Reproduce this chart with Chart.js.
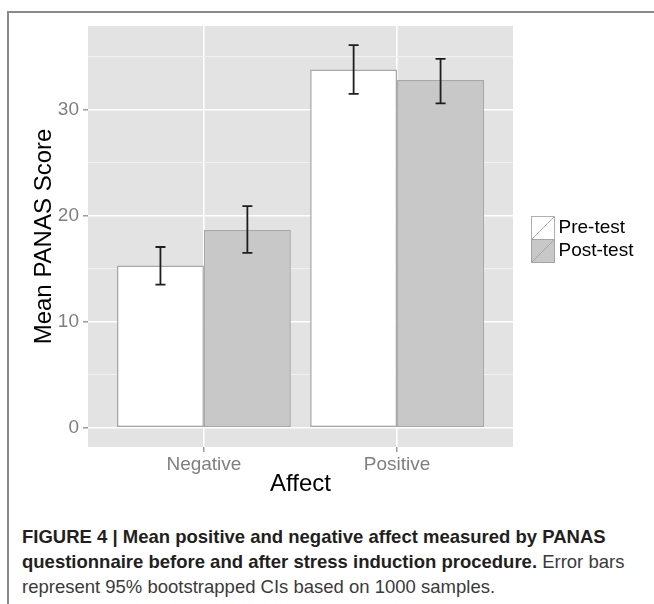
<!DOCTYPE html>
<html><head><meta charset="utf-8">
<script src="https://cdn.jsdelivr.net/npm/chart.js@4.4.1/dist/chart.umd.min.js"></script>
<style>
html,body{margin:0;padding:0;background:#fff;}
#wrap{position:relative;width:654px;height:604px;overflow:hidden;}
#frame{position:absolute;left:7px;top:11px;width:700px;height:700px;border-top:2px solid #8a8a8a;border-left:2px solid #8a8a8a;}
#c{position:absolute;left:0;top:0;}
.cap{position:absolute;left:22px;top:524px;font-family:'Liberation Sans',Arial,Helvetica,sans-serif;font-size:18.5px;line-height:25px;white-space:nowrap;color:#3a3a3a;}
.cap b{color:#231f20;}
</style></head><body>
<div id="wrap">
<div id="frame"></div>
<canvas id="c" width="654" height="510"></canvas>
<div class="cap"><b>FIGURE 4 | Mean positive and negative affect measured by PANAS</b><br><b>questionnaire before and after stress induction procedure.</b> Error bars<br>represent 95% bootstrapped CIs based on 1000 samples.</div>
</div>
<script>
const categories = ['Negative', 'Positive'];
const seriesNames = ['Pre-test', 'Post-test'];
const preTest = [15.3, 33.8];
const postTest = [18.65, 32.8];
const preLow = [13.5, 31.5];
const preHigh = [17.05, 36.1];
const postLow = [16.5, 30.6];
const postHigh = [20.9, 34.8];
const yMajorTicks = [0, 10, 20, 30];
const yMinorTicks = [5, 15, 25, 35];

Chart.defaults.font.family = "'Liberation Sans', Arial, Helvetica, sans-serif";
const GRID_MAJOR = '#ffffff', GRID_MINOR = '#f1f1f1', PANEL = '#e3e3e3', TICK = '#8c8c8c', TICKTEXT = '#7f7f7f';

function legendSwatch(fill, edge) {
  const c = document.createElement('canvas');
  c.width = 46; c.height = 24;
  const g = c.getContext('2d');
  g.fillStyle = fill; g.fillRect(21, 0, 24, 24);
  g.strokeStyle = edge; g.lineWidth = 1;
  g.strokeRect(21.5, 0.5, 23, 23);
  g.beginPath(); g.moveTo(22, 23); g.lineTo(44, 1); g.stroke();
  return c;
}
const swatches = [legendSwatch('#ffffff', '#b0b0b0'), legendSwatch('#c8c8c8', '#a4a4a4')];

const panelBg = {
  id: 'panelBg',
  beforeDraw(chart) {
    const {ctx, chartArea: a} = chart;
    ctx.save(); ctx.fillStyle = PANEL; ctx.fillRect(a.left, a.top, a.width, a.height); ctx.restore();
  }
};
const errorBars = {
  id: 'errorBars',
  afterDatasetsDraw(chart) {
    const ctx = chart.ctx, ys = chart.scales.y;
    const ranges = [[preLow, preHigh], [postLow, postHigh]];
    ctx.save();
    ctx.strokeStyle = '#1e1e1e'; ctx.lineWidth = 1.8;
    ranges.forEach((r, di) => {
      chart.getDatasetMeta(di).data.forEach((bar, i) => {
        const x = bar.x, y1 = ys.getPixelForValue(r[0][i]), y2 = ys.getPixelForValue(r[1][i]);
        ctx.beginPath();
        ctx.moveTo(x, y1); ctx.lineTo(x, y2);
        ctx.moveTo(x - 5, y1); ctx.lineTo(x + 5, y1);
        ctx.moveTo(x - 5, y2); ctx.lineTo(x + 5, y2);
        ctx.stroke();
      });
    });
    ctx.restore();
  }
};

const isMajor = v => yMajorTicks.includes(v);

new Chart(document.getElementById('c'), {
  type: 'bar',
  data: {
    datasets: [
      {label: seriesNames[0], data: preTest.map((v, i) => ({x: i + 1, y: v})), backgroundColor: '#ffffff', borderColor: '#a8a8a8', borderWidth: 1.5, borderSkipped: false, barPercentage: 1, categoryPercentage: 0.9},
      {label: seriesNames[1], data: postTest.map((v, i) => ({x: i + 1, y: v})), backgroundColor: '#c8c8c8', borderColor: '#a8a8a8', borderWidth: 1.5, borderSkipped: false, barPercentage: 1, categoryPercentage: 0.9}
    ]
  },
  options: {
    responsive: false, animation: false, events: [],
    layout: {padding: {left: 20, top: 26, right: 13, bottom: 11}},
    scales: {
      x: {
        type: 'linear', min: 0.4, max: 2.6, offset: false,
        afterBuildTicks: s => { s.ticks = categories.map((_, i) => ({value: i + 1})); },
        afterFit: s => { s.height = 52; },
        ticks: {callback: v => categories[v - 1] || '', color: TICKTEXT, font: {size: 19}, padding: 1, maxRotation: 0, autoSkip: false},
        grid: {offset: false, color: GRID_MAJOR, lineWidth: 1.6, tickColor: TICK, tickLength: 5, tickWidth: 1.3},
        border: {display: false},
        title: {display: true, text: 'Affect', color: '#000', font: {size: 24}, padding: {top: 0, bottom: 0}}
      },
      y: {
        min: -1.82, max: 37.9,
        afterBuildTicks: s => { s.ticks = yMajorTicks.concat(yMinorTicks).sort((a, b) => a - b).map(v => ({value: v})); },
        afterFit: s => { s.width = 68; },
        ticks: {callback: v => isMajor(v) ? String(v) : '', color: TICKTEXT, font: {size: 19}, padding: 4},
        grid: {
          color: c => isMajor(c.tick.value) ? GRID_MAJOR : GRID_MINOR,
          lineWidth: c => isMajor(c.tick.value) ? 1.6 : 1.1,
          tickColor: c => isMajor(c.tick.value) ? TICK : 'rgba(0,0,0,0)',
          tickLength: 5, tickWidth: 1.3
        },
        border: {display: false},
        title: {display: true, text: 'Mean PANAS Score', color: '#000', font: {size: 24}, padding: {top: 9.8, bottom: 0}}
      }
    },
    plugins: {
      tooltip: {enabled: false},
      legend: {
        position: 'right', align: 'center', fullSize: false, maxWidth: 128,
        title: {display: true, text: '', font: {size: 6, lineHeight: 1}, padding: 0},
        labels: {
          usePointStyle: true, pointStyleWidth: 32, padding: 4, color: '#000', font: {size: 19},
          generateLabels: () => seriesNames.map((n, i) => ({text: n, pointStyle: swatches[i], fontColor: '#000', hidden: false, datasetIndex: i, lineWidth: 0, strokeStyle: 'rgba(0,0,0,0)', fillStyle: 'rgba(0,0,0,0)'}))
        }
      }
    }
  },
  plugins: [panelBg, errorBars]
});
</script>
</body></html>
